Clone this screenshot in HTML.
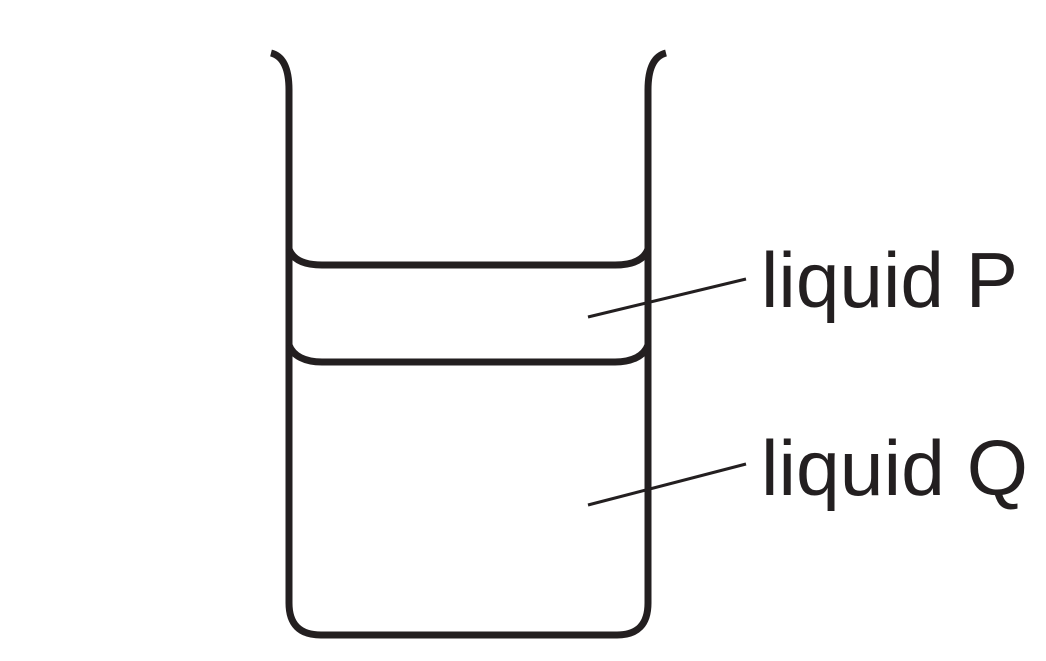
<!DOCTYPE html>
<html><head><style>
html,body{margin:0;padding:0;background:#fff;width:1046px;height:661px;overflow:hidden}
svg{display:block}
text{font-family:"Liberation Sans",Arial,sans-serif;font-size:78px;fill:#231f20}
</style></head><body>
<svg width="1046" height="661" viewBox="0 0 1046 661">
<g fill="none" stroke="#231f20" stroke-width="7" stroke-linecap="butt">
<path d="M271,53 C283,56 289,68 289,90 L289,603 Q289,635 321,635 L617,635 Q648,635 648,603 L648,90 C648,68 654,56 666,53"/>
<path d="M289,249 C293,260 305,265 322,265 L615,265 C632,265 644,260 648,249"/>
<path d="M289,345 C293,356 305,362 322,362 L615,362 C632,362 644,356 648,345"/>
</g>
<g stroke="#231f20" stroke-width="3">
<line x1="588" y1="317" x2="746" y2="279"/>
<line x1="588" y1="505" x2="746" y2="464"/>
</g>
<text x="761" y="307" textLength="257" lengthAdjust="spacingAndGlyphs">liquid P</text>
<text x="761" y="495" textLength="267" lengthAdjust="spacingAndGlyphs">liquid Q</text>
</svg>
</body></html>
